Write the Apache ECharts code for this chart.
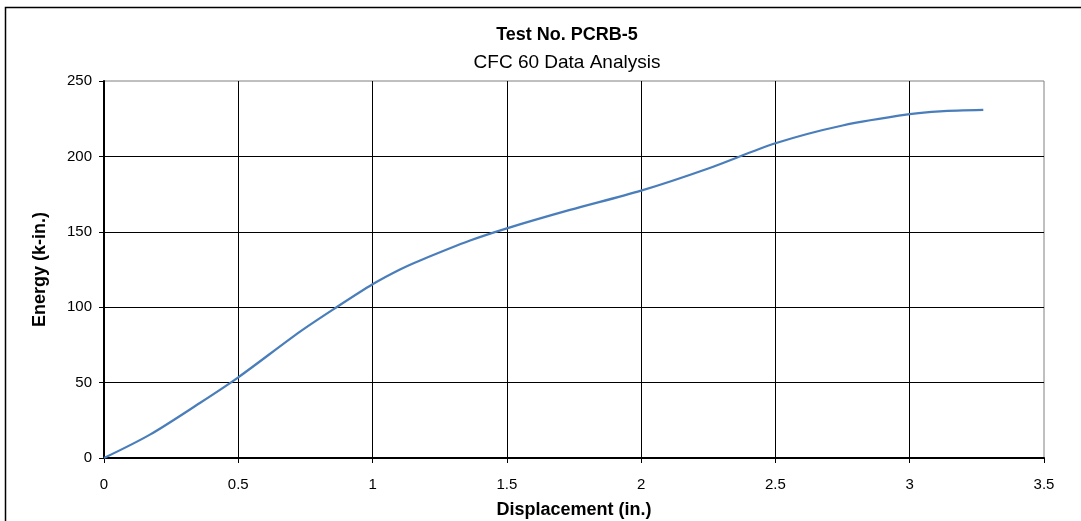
<!DOCTYPE html>
<html>
<head>
<meta charset="utf-8">
<script src="https://cdn.jsdelivr.net/npm/echarts@6/dist/echarts.min.js"></script>
<style>
html,body{margin:0;padding:0;background:#fff;}
#chart{width:1081px;height:521px;}
</style>
</head>
<body>
<div id="chart"></div>
<script>
var displacement = [0, 0.171, 0.357, 0.5, 0.73, 0.866, 1.0, 1.102, 1.177, 1.363, 1.5, 1.735, 2.0, 2.25, 2.5, 2.75, 3.0, 3.113, 3.274];
var energy = [0, 15.5, 36.5, 53.5, 83.8, 100, 115.2, 125, 131, 144.2, 152.3, 164.5, 177.3, 192, 208.7, 220.5, 228.0, 229.9, 230.8];
var titleText = 'Test No. PCRB-5';
var subtitleText = 'CFC 60 Data Analysis';
var xName = 'Displacement (in.)';
var yName = 'Energy (k-in.)';

var pts = displacement.map(function (d, i) { return [d, energy[i]]; });
var FONT = '"Liberation Sans", Arial, sans-serif';
var chart = echarts.init(document.getElementById('chart'), null, {renderer: 'canvas'});
chart.setOption({
  animation: false,
  backgroundColor: '#fff',
  graphic: [{
    type: 'rect', silent: true,
    shape: {x: 5.5, y: 7.5, width: 1100, height: 600},
    style: {fill: 'none', stroke: '#000', lineWidth: 1.5}
  }],
  title: [{
    text: titleText, left: 562, top: 21, textAlign: 'center',
    textStyle: {fontFamily: FONT, fontSize: 18, fontWeight: 'bold', color: '#000'}
  }, {
    text: subtitleText, left: 562, top: 48, textAlign: 'center',
    textStyle: {fontFamily: FONT, fontSize: 19, fontWeight: 'normal', color: '#000'}
  }],
  grid: {left: 104, right: 37, top: 81, bottom: 63, show: true, borderColor: '#808080', borderWidth: 1, backgroundColor: 'transparent', containLabel: false, outerBoundsMode: 'none'},
  xAxis: {
    type: 'value', min: 0, max: 3.5, interval: 0.5,
    name: xName, nameLocation: 'middle', nameGap: 43,
    nameTextStyle: {fontFamily: FONT, fontSize: 18, fontWeight: 'bold', color: '#000'},
    axisLine: {show: true, onZero: false, lineStyle: {color: '#000', width: 2}},
    axisTick: {show: true, inside: false, length: 5, lineStyle: {color: '#000', width: 1}},
    axisLabel: {fontFamily: FONT, fontSize: 15, color: '#000', margin: 19},
    splitLine: {show: true, showMinLine: false, showMaxLine: false, lineStyle: {color: '#000', width: 1}}
  },
  yAxis: {
    type: 'value', min: 0, max: 250, interval: 50,
    name: yName, nameLocation: 'middle', nameGap: 55,
    nameTextStyle: {fontFamily: FONT, fontSize: 18, fontWeight: 'bold', color: '#000'},
    axisLine: {show: true, onZero: false, lineStyle: {color: '#000', width: 2}},
    axisTick: {show: true, inside: false, length: 5, lineStyle: {color: '#000', width: 1}},
    axisLabel: {fontFamily: FONT, fontSize: 15, color: '#000', margin: 12},
    splitLine: {show: true, showMinLine: false, showMaxLine: false, lineStyle: {color: '#000', width: 1}}
  },
  series: [{
    type: 'line', data: pts, smooth: 0.3, showSymbol: false, symbol: 'none',
    lineStyle: {color: '#4a7ebb', width: 2.25},
    clip: false
  }]
});
</script>
</body>
</html>
